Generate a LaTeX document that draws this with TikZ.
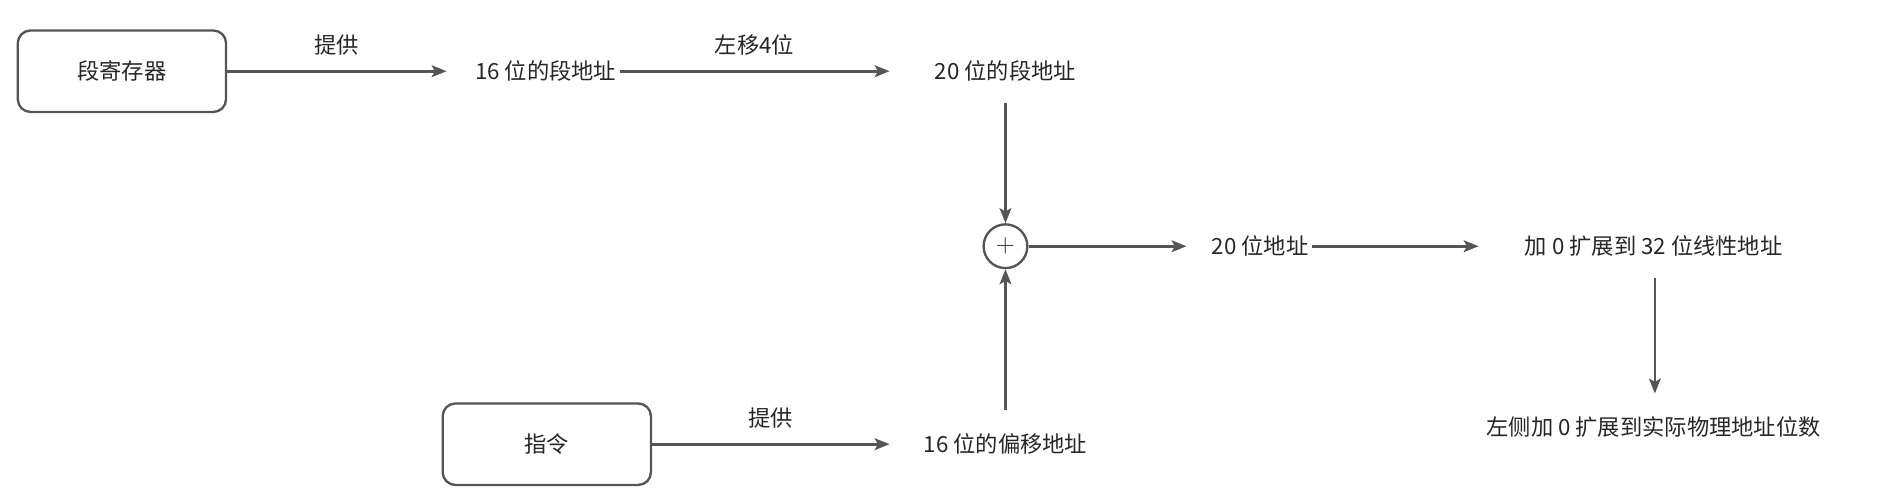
\documentclass[tikz,border=0pt]{standalone}
\usepackage{fontspec}
\setmainfont{Noto Sans CJK SC}
\usetikzlibrary{arrows.meta}
\definecolor{ln}{HTML}{555555}
\begin{document}
\begin{tikzpicture}[x=0.04cm,y=-0.04cm,
  every node/.style={font=\fontsize{21}{25}\selectfont,text=black!85},
  box/.style={draw=ln,line width=2.2pt,rounded corners=12pt,minimum width=6.9cm,minimum height=2.7cm},
  lbl/.style={inner sep=3pt},
  arr/.style={draw=ln,line width=2.6pt,-{Stealth[length=14pt,width=11pt,inset=3pt]}}]
\useasboundingbox (0,0) rectangle (1560,406);
\node[box] (seg) at (101,59) {段寄存器};
\node[lbl] (a16) at (452,59) {16 位的段地址};
\node[lbl] (a20) at (833,59) {20 位的段地址};
\node[draw=ln,circle,line width=2.2pt,minimum size=1.45cm,inner sep=0pt,font=\fontsize{30}{30}\selectfont] (plus) at (833,204) {$+$};
\node[lbl] (b20) at (1044,204) {20 位地址};
\node[lbl] (ext32) at (1370,204) {加 0 扩展到 32 位线性地址};
\node[lbl] (phys) at (1370,354) {左侧加 0 扩展到实际物理地址位数};
\node[box] (ins) at (453,368) {指令};
\node[lbl] (off) at (833,368) {16 位的偏移地址};
\coordinate (t1) at (370,59);
\coordinate (t2) at (737,59);
\coordinate (t3) at (737,368);
\draw[arr] (seg.east) -- (t1) node[midway,above=10pt] (l1) {提供};
\draw[arr] (a16.east) -- (t2) node[midway,above=10pt] (l2) {左移4位};
\draw[arr] (ins.east) -- (t3) node[midway,above=10pt] (l3) {提供};
\draw[arr] (833,85) -- (plus.north);
\draw[arr] (833,340) -- (plus.south);
\draw[arr] (plus.east) -- (983,204);
\draw[arr] (b20.east) -- (1225,204);
\draw[arr] (1371,230) -- (1371,326);
\end{tikzpicture}
\end{document}
